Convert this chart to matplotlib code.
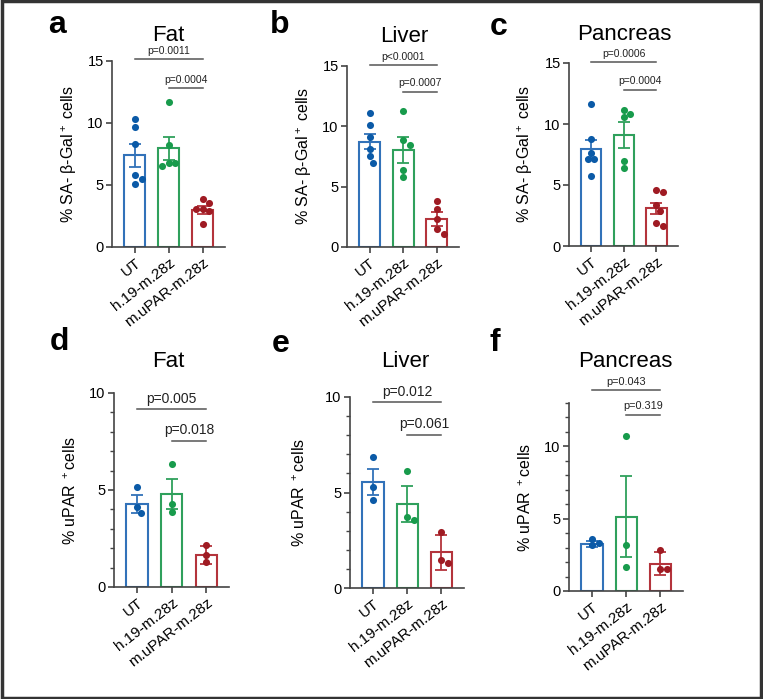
import numpy as np
import matplotlib
matplotlib.use('Agg')
import matplotlib.pyplot as plt
from matplotlib.patches import Rectangle
from matplotlib.ticker import MultipleLocator

plt.rcParams['font.family'] = ['Liberation Sans', 'DejaVu Sans']
plt.rcParams['mathtext.fontset'] = 'custom'
plt.rcParams['mathtext.rm'] = 'Liberation Sans'
plt.rcParams['mathtext.it'] = 'Liberation Sans:italic'
plt.rcParams['mathtext.bf'] = 'Liberation Sans:bold'

# ---------------- data ----------------
groups = ['UT', 'h.19-m.28z', 'm.uPAR-m.28z']

# a: Fat, SA-beta-Gal
a_points = [[10.3, 9.7, 8.33, 5.8, 5.5, 5.1],
            [11.7, 8.25, 6.8, 6.8, 6.55],
            [3.85, 3.55, 3.1, 3.1, 2.9, 1.85]]
a_mean = [7.4, 7.95, 2.98]
a_err = [0.94, 0.95, 0.30]

# b: Liver, SA-beta-Gal
b_points = [[11.1, 10.1, 9.15, 8.1, 7.5, 7.0],
            [11.25, 8.85, 8.45, 6.4, 5.8],
            [3.8, 3.15, 2.35, 1.5, 1.1]]
b_mean = [8.72, 8.02, 2.32]
b_err = [0.63, 1.10, 0.57]

# c: Pancreas, SA-beta-Gal
c_points = [[11.6, 8.8, 7.65, 7.15, 7.15, 5.7],
            [11.15, 10.85, 10.55, 7.0, 6.4],
            [4.55, 4.45, 3.4, 2.9, 1.9, 1.6]]
c_mean = [7.92, 9.1, 3.08]
c_err = [0.80, 1.04, 0.48]

# d: Fat, uPAR
d_points = [[5.15, 4.1, 3.8], [6.35, 4.3, 3.85], [2.15, 1.65, 1.3]]
d_mean = [4.3, 4.8, 1.65]
d_err = [0.46, 0.78, 0.45]

# e: Liver, uPAR
e_points = [[6.85, 5.3, 4.6], [6.15, 3.7, 3.55], [2.95, 1.45, 1.3]]
e_mean = [5.56, 4.4, 1.87]
e_err = [0.68, 0.92, 0.91]

# f: Pancreas, uPAR
f_points = [[3.6, 3.3, 3.15], [10.75, 3.2, 1.65], [2.85, 1.55, 1.5]]
f_mean = [3.25, 5.15, 1.9]
f_err = [0.20, 2.80, 0.80]

titles = ['Fat', 'Liver', 'Pancreas', 'Fat', 'Liver', 'Pancreas']
letters = ['a', 'b', 'c', 'd', 'e', 'f']
ylabels = ['% SA- β-Gal$^+$ cells'] * 3 + ['% uPAR $^+$cells'] * 3
p_texts = [['p=0.0011', 'p=0.0004'], ['p<0.0001', 'p=0.0007'], ['p=0.0006', 'p=0.0004'],
           ['p=0.005', 'p=0.018'], ['p=0.012', 'p=0.061'], ['p=0.043', 'p=0.319']]
p_heights = [[15.14, 12.8], [15.07, 12.86], [15.05, 12.8],
             [9.17, 7.53], [9.72, 8.02], [13.9, 12.2]]
ymax = [15, 15, 15, 10, 10, 13]

all_points = [a_points, b_points, c_points, d_points, e_points, f_points]
all_mean = [a_mean, b_mean, c_mean, d_mean, e_mean, f_mean]
all_err = [a_err, b_err, c_err, d_err, e_err, f_err]

# ---------------- style / layout ----------------
W, H = 763, 699
dot_cols = ['#0b5aa7', '#189b4c', '#9f1b23']
bar_cols = ['#3272b9', '#2fa05c', '#b4343c']
axcol = '#444444'

# axes boxes in pixels: left, top, right, bottom
boxes = [(112, 61, 225, 247), (347, 66, 459, 247), (569, 63, 678, 246),
         (114, 393, 229, 587), (350, 397, 464, 588), (569, 403, 683, 591)]
ylab_off = [33, 33, 34, 35, 42, 35]
title_pos = [(168, 41), (404, 41.5), (624, 40), (168, 367), (405, 367), (625, 367)]
letter_pos = [(48, 33), (270, 33), (490, 35), (50, 350), (272, 352), (489, 351)]
p_fs = [7.5, 7.5, 7.5, 10, 10, 7.8]
xlim = (-0.67, 2.66)

fig = plt.figure(figsize=(W / 100, H / 100), dpi=100)
fig.patches.append(Rectangle((0.002, 0.002), 0.996, 0.996, transform=fig.transFigure,
                             fill=False, edgecolor='#333333', linewidth=2.5))


def swarm(vals, ppy, d):
    placed = []
    offs = []
    cands = [0.0]
    for i in range(1, 30):
        cands += [i * d * 0.5, -i * d * 0.5]
    for v in vals:
        y = v * ppy
        for c in cands:
            if all((c - px) ** 2 + (y - py) ** 2 >= (0.95 * d) ** 2 for px, py in placed):
                break
        placed.append((c, y))
        offs.append(c)
    return offs


x = np.arange(len(groups))
for i in range(6):
    l, t, r, b = boxes[i]
    ax = fig.add_axes([l / W, 1 - b / H, (r - l) / W, (b - t) / H])
    ax.set_xlim(*xlim)
    ax.set_ylim(0, ymax[i])
    ppx = (r - l) / (xlim[1] - xlim[0])
    ppy = (b - t) / ymax[i]
    for g in range(3):
        ax.bar(x[g], all_mean[i][g], width=0.62, facecolor='white',
               edgecolor=bar_cols[g], linewidth=1.5, zorder=1)
        ax.errorbar(x[g], all_mean[i][g], yerr=all_err[i][g], fmt='none',
                    ecolor=bar_cols[g], elinewidth=1.3, capsize=4.5, capthick=1.3, zorder=2)
        offs = swarm(all_points[i][g], ppy, 6.8)
        xs = x[g] + np.array(offs) / ppx
        ax.scatter(xs, all_points[i][g], s=26, color=dot_cols[g], zorder=3,
                   linewidths=0, clip_on=False)
    for s in ['top', 'right']:
        ax.spines[s].set_visible(False)
    for s in ['left', 'bottom']:
        ax.spines[s].set_color(axcol)
        ax.spines[s].set_linewidth(1.2)
    ax.yaxis.set_major_locator(MultipleLocator(5))
    if i >= 3:
        ax.yaxis.set_minor_locator(MultipleLocator(1))
    ax.tick_params(axis='both', which='major', direction='out', length=4, width=1.2,
                   color=axcol, labelsize=10.5, pad=2)
    ax.tick_params(axis='y', which='minor', direction='out', length=3, width=1.0, color=axcol)
    ax.set_xticks(x)
    ax.set_xticklabels(groups, rotation=38, ha='right', rotation_mode='anchor', fontsize=11)
    ax.set_ylabel(ylabels[i], fontsize=11.5)
    ax.yaxis.set_label_coords(-ylab_off[i] / (r - l), 0.5)
    # significance brackets
    pairs = [(0, 2), (1, 2)]
    for k in range(2):
        x0, x1 = pairs[k]
        yh = p_heights[i][k]
        ax.plot([x0, x1], [yh, yh], color='#555555', linewidth=1.1, clip_on=False, zorder=4)
        ax.annotate(p_texts[i][k], xy=((x0 + x1) / 2, yh), xytext=(0, 2.5),
                    textcoords='offset points', ha='center', va='bottom',
                    fontsize=p_fs[i], color='#222222', annotation_clip=False)
    tx, ty = title_pos[i]
    fig.text(tx / W, 1 - ty / H, titles[i], ha='center', va='baseline', fontsize=16)
    lx, ly = letter_pos[i]
    fig.text(lx / W, 1 - ly / H, letters[i], ha='left', va='baseline', fontsize=23,
             fontweight='bold')

fig.savefig('out.png', dpi=100)
